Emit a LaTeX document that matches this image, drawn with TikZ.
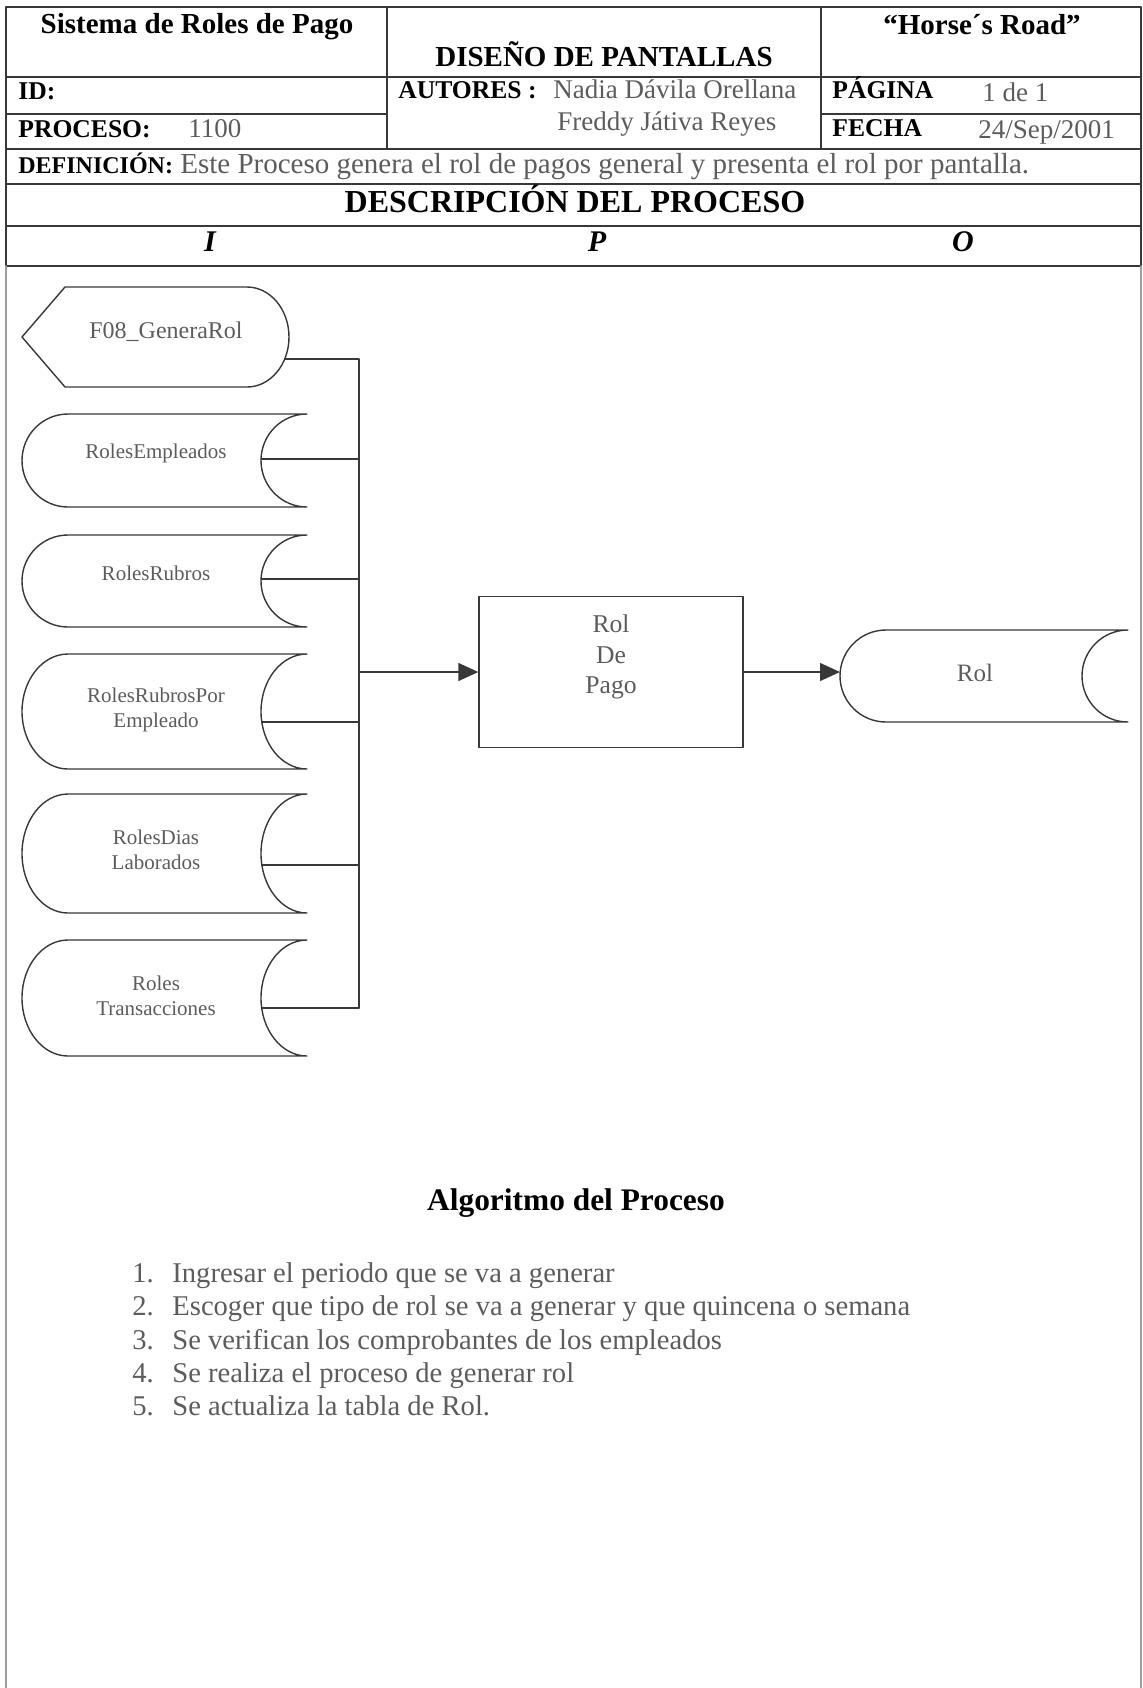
\documentclass[tikz,border=0pt]{standalone}
\usepackage{fontspec}
\setmainfont{Liberation Serif}
\usepackage{tikz}
\usetikzlibrary{arrows.meta,calc,positioning}
\definecolor{inkgray}{gray}{0.36}
\definecolor{rulegray}{gray}{0.22}
\definecolor{framegray}{gray}{0.62}
\tikzset{
  every picture/.append style={line cap=round,line join=round},
  form rule/.style={rulegray,line width=0.7pt},
  form frame/.style={framegray,line width=0.7pt},
  form bold/.style={font=\bfseries\fontsize{14.5}{17}\selectfont,inner sep=0pt,text height=9.6pt,text depth=0pt},
  form label/.style={anchor=west,font=\bfseries\fontsize{12.8}{15}\selectfont,inner sep=0pt,text height=8.5pt,text depth=0pt},
  form value/.style={anchor=west,text=inkgray,font=\fontsize{13.5}{16}\selectfont,inner sep=0pt,text height=8.9pt,text depth=0pt},
  form column/.style={font=\bfseries\itshape\fontsize{15}{18}\selectfont,inner sep=0pt,text height=9.9pt,text depth=0pt},
  flow outline/.style={rulegray,line width=0.7pt},
  flow text/.style={text=inkgray,font=\fontsize{10.5}{12.5}\selectfont,align=center,inner sep=0pt},
  flow box/.style={draw=rulegray,line width=0.7pt,minimum width=132pt,minimum height=75.5pt,inner sep=0pt},
  flow box text/.style={text=inkgray,font=\fontsize{12.8}{15.25}\selectfont,align=center,yshift=7.5pt},
  flow line/.style={rulegray,line width=0.7pt},
  flow arrow/.style={rulegray,line width=0.7pt,-{Triangle[length=10pt,width=9pt]}},
  algo title/.style={font=\bfseries\fontsize{15.7}{19}\selectfont,inner sep=0pt,text height=10.4pt,text depth=0pt},
  algo item/.style={anchor=west,text=inkgray,font=\fontsize{14.3}{17}\selectfont,inner sep=0pt,text height=9.5pt,text depth=0pt}
}
% stored data: round left end, hollow right end
% #1 name, #2 left, #3 right, #4 top, #5 bottom, #6 port y
\newcommand{\storedata}[6]{%
  \pgfmathsetmacro{\sdmid}{(#4+#5)/2}%
  \pgfmathsetmacro{\sdk}{0.5523*(#5-#4)/2}%
  \draw[flow outline] (#2+46,#4) -- (#3,#4)
    .. controls (#3-25.4,#4) and (#3-46,\sdmid-\sdk) .. (#3-46,\sdmid)
    .. controls (#3-46,\sdmid+\sdk) and (#3-25.4,#5) .. (#3,#5)
    -- (#2+46,#5)
    .. controls (#2+20.6,#5) and (#2,\sdmid+\sdk) .. (#2,\sdmid)
    .. controls (#2,\sdmid-\sdk) and (#2+20.6,#4) .. (#2+46,#4) -- cycle;
  \coordinate (#1-west) at (#2,\sdmid);
  \coordinate (#1-port) at (#3-45.3,#6);
}

\begin{document}
\begin{tikzpicture}[x=0.5pt,y=-0.5pt]
  \useasboundingbox (0,0) rectangle (1143,1688);

  % form header
  \draw[form rule] (6,7) rectangle (1141,266);
  \foreach \y in {77,149,184,226} \draw[form rule] (6,\y) -- (1141,\y);
  \draw[form rule] (6,114) -- (387,114) (821,114) -- (1141,114);
  \draw[form rule] (387,7) -- (387,149) (821,7) -- (821,149);
  \draw[form frame] (6,266) -- (6,1688);
  \draw[form frame] (1141,266) -- (1141,1688);

  \node[form bold] (sys) at (197,24) {Sistema de Roles de Pago};
  \node[form bold] (doc) at (604,57) {DISEÑO DE PANTALLAS};
  \node[form bold] (firm) at (982,25) {“Horse´s Road”};
  \node[form label] (idlbl) at (18,91) {ID:};
  \node[form label] (proclbl) at (18,129) {PROCESO:};
  \node[form value] (procnum) at (188,129) {1100};
  \node[form label] (autlbl) at (398,90) {AUTORES :};
  \node[form value] (aut1) at (553,90) {Nadia Dávila Orellana};
  \node[form value] (aut2) at (557,122) {Freddy Játiva Reyes};
  \node[form label] (paglbl) at (832,90) {PÁGINA};
  \node[form value] (pagnum) at (982,93) {1 de 1};
  \node[form label] (datelbl) at (832,128) {FECHA};
  \node[form value] (date) at (978,130) {24/Sep/2001};
  \node[form value,font=\fontsize{14.5}{17}\selectfont] (defn) at (18,165)
    {{\color{black}\bfseries\fontsize{12}{14}\selectfont DEFINICIÓN:} Este Proceso genera el rol de pagos general y presenta el rol por pantalla.};
  \node[form bold,font=\bfseries\fontsize{16}{19}\selectfont,text height=10.6pt] (desc) at (575,202) {DESCRIPCIÓN DEL PROCESO};
  \node[form column] (colI) at (210,242) {I};
  \node[form column] (colP) at (597,242) {P};
  \node[form column] (colO) at (963,242) {O};

  % inputs
  \draw[flow outline] (22,337) -- (65,287) -- (247,287)
    .. controls (270.2,287) and (289,309.4) .. (289,337)
    .. controls (289,364.6) and (270.2,387) .. (247,387) -- (65,387) -- cycle;
  \node[flow text,font=\fontsize{12}{14}\selectfont] (genrol) at (166,332) {F08\_GeneraRol};
  \coordinate (genrol-port) at (285,359);

  \storedata{rempl}{22}{307}{414}{507}{459}
  \node[flow text] (rempl) at (156,453) {RolesEmpleados};
  \storedata{rrub}{22}{307}{535}{627}{579}
  \node[flow text] (rrub) at (156,573) {RolesRubros};
  \storedata{rrubemp}{22}{307}{654}{769}{722}
  \node[flow text] (rrubemp) at (156,709.5) {RolesRubrosPor\\Empleado};
  \storedata{rdias}{22}{307}{794}{913}{865}
  \node[flow text] (rdias) at (156,849.5) {RolesDias\\Laborados};
  \storedata{rtrans}{22}{307}{940}{1056}{1008}
  \node[flow text] (rtrans) at (156,996) {Roles\\Transacciones};

  % process and output
  \node[flow box,label={[flow box text]center:Rol\\De\\Pago}] (proc) at (611,672) {};
  \storedata{rol}{840}{1128}{630}{722}{676}
  \node[flow text,font=\fontsize{12.5}{15}\selectfont] (rol) at (975,673) {Rol};

  % connectors
  \coordinate (bus) at (359,359);
  \draw[flow line] (genrol-port) -| (rtrans-port -| bus);
  \foreach \s in {rempl,rrub,rrubemp,rdias,rtrans}
    \draw[flow line] (\s-port) -- (\s-port -| bus);
  \draw[flow arrow] (proc.west -| bus) -- (proc.west);
  \draw[flow arrow] (proc.east) -- (proc.east -| rol-west);

  % algorithm
  \node[algo title] (algo) at (576,1200) {Algoritmo del Proceso};
  \foreach \n/\txt [count=\i from 0] in {1/Ingresar el periodo que se va a generar,
      2/Escoger que tipo de rol se va a generar y que quincena o semana,
      3/Se verifican los comprobantes de los empleados,
      4/Se realiza el proceso de generar rol,
      5/Se actualiza la tabla de Rol.} {
    \node[algo item] (num\n) at (132,1273+33.3*\i) {\n.};
    \node[algo item] (step\n) at (172,1273+33.3*\i) {\txt};
  }
\end{tikzpicture}
\end{document}
